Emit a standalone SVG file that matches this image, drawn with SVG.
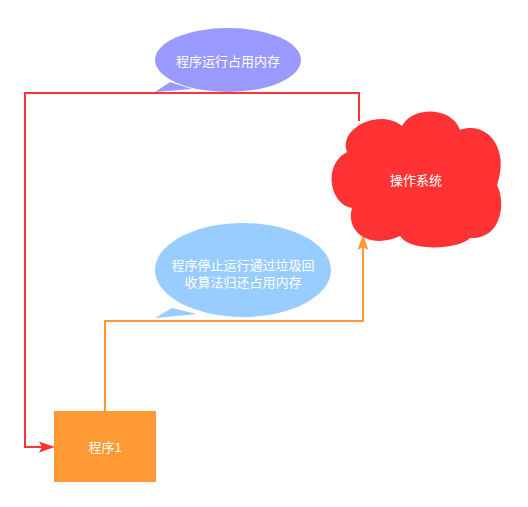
<svg xmlns="http://www.w3.org/2000/svg" width="528" height="507" viewBox="0 0 528 507">
<style>
.lbl{font-family:"Liberation Sans","Noto Sans CJK SC",sans-serif;font-size:13px;fill:#ffffff;text-anchor:middle;dominant-baseline:central}
.edge{fill:none;stroke-width:2}
</style>
<rect width="528" height="507" fill="#ffffff"/>
<g id="connectors">
<path class="edge" stroke="#FF3333" d="M359,121 L359,93 L25,93 L25,447 L42,447"/>
<path fill="#FF3333" d="M55,447 L39,441.5 L42,447 L39,452.5 Z"/>
<path class="edge" stroke="#FF9933" d="M105,411 L105,321 L363,321 L363,247"/>
<path fill="#FF9933" d="M363,234 L357.5,250 L363,247 L368.5,250 Z"/>
</g>
<g id="bubble1">
<path fill="#9999FF" d="M170,82 L155,92 L192,89 Z"/>
<ellipse cx="228" cy="60" rx="73" ry="32" fill="#9999FF"/>
<text class="lbl" x="228" y="61">程序运行占用内存</text>
</g>
<g id="os">
<path fill="#FF3333" d="M347,152 C338,128 380,108 402,126 C412,106 452,106 460,130 C488,120 510,150 497,185 C507,205 500,240 470,238 C458,250 410,252 400,236 C370,250 345,232 352,208 C330,205 322,165 347,152 Z"/>
<text class="lbl" x="416" y="180">操作系统</text>
</g>
<g id="bubble2">
<path fill="#99CCFF" d="M172,308 L155,318 L197,314 Z"/>
<ellipse cx="243" cy="270" rx="88" ry="47" fill="#99CCFF"/>
<text class="lbl" x="243" y="265">程序停止运行通过垃圾回</text>
<text class="lbl" x="243" y="282">收算法归还占用内存</text>
</g>
<g id="program1">
<rect x="54" y="411" width="102" height="71" fill="#FF9933"/>
<text class="lbl" x="105" y="447">程序1</text>
</g>
</svg>
